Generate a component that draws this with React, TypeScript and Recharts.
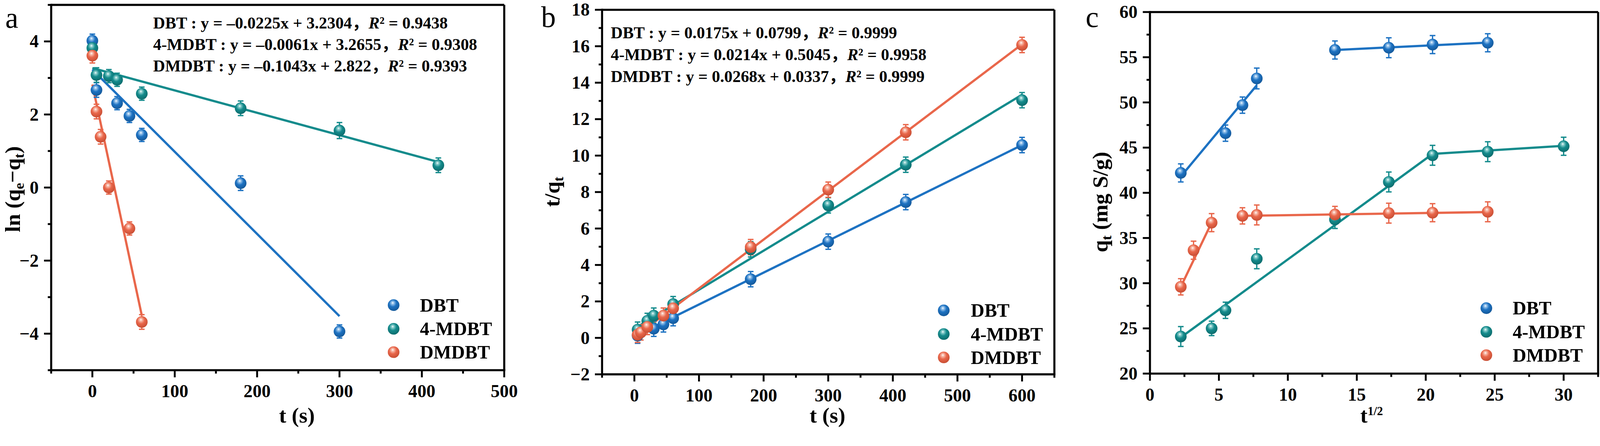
import React from "react";
import {
  ComposedChart,
  ErrorBar,
  Label,
  Legend,
  Line,
  ReferenceLine,
  Scatter,
  XAxis,
  YAxis,
} from "recharts";

const FONT = "'Liberation Serif', 'Times New Roman', Times, serif";
const INK = "#000";
const W = 4252;
const H = 1142;

const NAMES = ["DBT", "4-MDBT", "DMDBT"];
const COLORS = ["#1D72C2", "#148B8C", "#E9674B"];
const GRADS = ["sph-dbt", "sph-mdbt", "sph-dmdbt"];

// ---- a: ln(qe - qt) vs t
const A_DBT_T = [0, 5, 30, 45, 60, 180, 300];
const A_DBT_Y = [4.02, 2.67, 2.31, 1.96, 1.44, 0.12, -3.94];
const A_DBT_ERR = [0.18, 0.2, 0.18, 0.18, 0.18, 0.2, 0.18];
const A_MDBT_T = [0, 5, 20, 30, 60, 180, 300, 420];
const A_MDBT_Y = [3.82, 3.08, 3.05, 2.95, 2.57, 2.17, 1.56, 0.61];
const A_MDBT_ERR = [0.18, 0.2, 0.18, 0.18, 0.18, 0.2, 0.22, 0.2];
const A_DMDBT_T = [0, 5, 10, 20, 45, 60];
const A_DMDBT_Y = [3.61, 2.08, 1.39, 0.0, -1.12, -3.68];
const A_DMDBT_ERR = [0.2, 0.2, 0.2, 0.18, 0.18, 0.2];
const A_FIT_DBT = [[0, 3.23], [300, -3.52]];
const A_FIT_MDBT = [[0, 3.27], [420, 0.7]];
const A_FIT_DMDBT = [[0, 2.82], [60, -3.5]];
const A_X_MAJOR = [0, 100, 200, 300, 400, 500];
const A_X_MINOR = [-50, 50, 150, 250, 350, 450];
const A_Y_MAJOR = [-4, -2, 0, 2, 4];
const A_Y_MINOR = [-5, -3, -1, 1, 3, 5];
const A_EQ = ["y = –0.0225x + 3.2304", "y = –0.0061x + 3.2655", "y = –0.1043x + 2.822"];
const A_R2 = ["0.9438", "0.9308", "0.9393"];

// ---- b: t/qt vs t
const B_DBT_T = [5, 30, 45, 60, 180, 300, 420, 600];
const B_DBT_Y = [0.12, 0.5, 0.74, 1.08, 3.22, 5.28, 7.45, 10.58];
const B_MDBT_T = [5, 20, 30, 60, 180, 300, 420, 600];
const B_MDBT_Y = [0.45, 0.93, 1.22, 1.85, 4.86, 7.27, 9.5, 13.04];
const B_DMDBT_T = [5, 10, 20, 45, 60, 180, 300, 420, 600];
const B_DMDBT_Y = [0.17, 0.3, 0.6, 1.22, 1.62, 4.98, 8.13, 11.28, 16.07];
const B_ERR = 0.42;
const B_FIT_DBT = [[5, 0.17], [600, 10.58]];
const B_FIT_MDBT = [[5, 0.61], [600, 13.34]];
const B_FIT_DMDBT = [[5, 0.17], [600, 16.11]];
const B_X_MAJOR = [0, 100, 200, 300, 400, 500, 600];
const B_X_MINOR = [-50, 50, 150, 250, 350, 450, 550, 650];
const B_Y_MAJOR = [-2, 0, 2, 4, 6, 8, 10, 12, 14, 16, 18];
const B_Y_MINOR = [-1, 1, 3, 5, 7, 9, 11, 13, 15, 17];
const B_EQ = ["y = 0.0175x + 0.0799", "y = 0.0214x + 0.5045", "y = 0.0268x + 0.0337"];
const B_R2 = ["0.9999", "0.9958", "0.9999"];

// ---- c: qt vs t^1/2
const C_DBT_X = [2.236, 5.477, 6.708, 7.746, 13.416, 17.321, 20.494, 24.495];
const C_DBT_Y = [42.2, 46.6, 49.7, 52.65, 55.8, 56.05, 56.4, 56.6];
const C_DBT_ERR = [1.0, 0.9, 0.9, 1.15, 1.0, 1.1, 1.0, 1.0];
const C_MDBT_X = [2.236, 4.472, 5.477, 7.746, 13.416, 17.321, 20.494, 24.495, 30];
const C_MDBT_Y = [24.1, 25.0, 27.0, 32.7, 37.05, 41.2, 44.15, 44.55, 45.15];
const C_MDBT_ERR = [1.1, 0.8, 0.9, 1.1, 1.0, 1.1, 1.1, 1.1, 1.0];
const C_DMDBT_X = [2.236, 3.162, 4.472, 6.708, 7.746, 13.416, 17.321, 20.494, 24.495];
const C_DMDBT_Y = [29.6, 33.65, 36.7, 37.45, 37.55, 37.6, 37.75, 37.8, 37.9];
const C_DMDBT_ERR = [0.9, 1.0, 1.0, 0.9, 1.1, 0.9, 1.1, 1.0, 1.1];
const C_FIT_DBT_1 = [[2.236, 41.8], [7.746, 51.9]];
const C_FIT_DBT_2 = [[13.416, 55.8], [24.495, 56.62]];
const C_FIT_MDBT = [[2.236, 24.0], [20.494, 44.3], [30, 45.2]];
const C_FIT_DMDBT_1 = [[2.236, 29.6], [4.472, 36.7]];
const C_FIT_DMDBT_2 = [[6.708, 37.45], [24.495, 37.87]];
const C_X_MAJOR = [0, 5, 10, 15, 20, 25, 30];
const C_X_MINOR = [2.5, 7.5, 12.5, 17.5, 22.5, 27.5, 32.5];
const C_Y_MAJOR = [20, 25, 30, 35, 40, 45, 50, 55, 60];
const C_Y_MINOR = [22.5, 27.5, 32.5, 37.5, 42.5, 47.5, 52.5, 57.5];

type Pt = { x: number; y: number; err?: number };

const toPts = (xs: number[], ys: number[], errs: number[] | number): Pt[] =>
  xs.map((x, i) => ({ x, y: ys[i], err: Array.isArray(errs) ? errs[i] : errs }));
const toLine = (pairs: number[][]): Pt[] => pairs.map(([x, y]) => ({ x, y }));

const fmt = (v: number) => (v < 0 ? `\u2212${Math.abs(v)}` : `${v}`);

const makeXTick = (majors: number[]) => (props: any) => {
  const { x, y, payload } = props;
  const major = majors.includes(payload.value);
  return (
    <g>
      <line x1={x} x2={x} y1={y} y2={y + (major ? 19 : 9)} stroke={INK} strokeWidth={5} />
      {major && (
        <text x={x} y={y + 72} textAnchor="middle" fontFamily={FONT} fontWeight={700} fontSize={48} fill={INK}>
          {fmt(payload.value)}
        </text>
      )}
    </g>
  );
};

const makeYTick = (majors: number[]) => (props: any) => {
  const { x, y, payload } = props;
  const major = majors.includes(payload.value);
  return (
    <g>
      <line x1={x} x2={x - (major ? 19 : 9)} y1={y} y2={y} stroke={INK} strokeWidth={5} />
      {major && (
        <text x={x - 33} y={y + 16} textAnchor="end" fontFamily={FONT} fontWeight={700} fontSize={48} fill={INK}>
          {fmt(payload.value)}
        </text>
      )}
    </g>
  );
};

const sphere = (grad: string) => (props: any) => (
  <circle cx={props.cx} cy={props.cy} r={15.5} fill={`url(#${grad})`} />
);

function LegendBox({ gap }: { gap: number }) {
  return (
    <div style={{ fontFamily: FONT, fontWeight: 700, fontSize: 50, color: INK, width: "max-content" }}>
      {NAMES.map((name, i) => (
        <div key={name} style={{ display: "flex", alignItems: "center", height: 62.5, width: "max-content" }}>
          <svg width={32} height={32} style={{ display: "block" }}>
            <circle cx={16} cy={16} r={15.5} fill={`url(#${GRADS[i]})`} />
          </svg>
          <span style={{ marginLeft: gap, lineHeight: 1, whiteSpace: "nowrap" }}>{name}</span>
        </div>
      ))}
    </div>
  );
}

type PanelProps = {
  left: number;
  width: number;
  top: number;
  right: number;
  yAxisWidth: number;
  xAxisHeight: number;
  xDomain: [number, number];
  xMajor: number[];
  xMinor: number[];
  yDomain: [number, number];
  yMajor: number[];
  yMinor: number[];
  series: Pt[][];
  fits: { color: string; pts: Pt[] }[];
  legend: { left: number; top: number; gap: number };
  letter: { text: string; x: number; y: number };
  eq?: { x: number; ys: number[]; formulas: string[]; r2: string[] };
  xTitle: React.ReactNode;
  yTitle: React.ReactNode;
};

function Panel(p: PanelProps) {
  const xTicks = [...p.xMajor, ...p.xMinor].sort((a, b) => a - b);
  const yTicks = [...p.yMajor, ...p.yMinor].sort((a, b) => a - b);
  const axisLine = { stroke: INK, strokeWidth: 5.5, strokeLinecap: "square" as const };
  return (
    <div style={{ position: "absolute", left: p.left, top: 0, width: p.width, height: H }}>
      <ComposedChart width={p.width} height={H} margin={{ top: p.top, right: p.right, bottom: 0, left: 0 }}>
        <XAxis
          type="number"
          dataKey="x"
          domain={p.xDomain}
          allowDataOverflow
          ticks={xTicks}
          interval={0}
          tickSize={0}
          tickMargin={0}
          tickLine={false}
          axisLine={axisLine}
          tick={makeXTick(p.xMajor)}
          height={p.xAxisHeight}
          label={<Label content={() => <>{p.xTitle}</>} />}
        />
        <YAxis
          type="number"
          dataKey="y"
          domain={p.yDomain}
          allowDataOverflow
          ticks={yTicks}
          interval={0}
          tickSize={0}
          tickMargin={0}
          tickLine={false}
          axisLine={axisLine}
          tick={makeYTick(p.yMajor)}
          width={p.yAxisWidth}
          label={<Label content={() => <>{p.yTitle}</>} />}
        />
        <ReferenceLine y={p.yDomain[1]} stroke={INK} strokeWidth={5.5} ifOverflow="visible" />
        <ReferenceLine x={p.xDomain[1]} stroke={INK} strokeWidth={5.5} ifOverflow="visible" />
        {p.fits.map((f, i) => (
          <Line
            key={`fit-${i}`}
            data={f.pts}
            dataKey="y"
            stroke={f.color}
            strokeWidth={6}
            dot={false}
            activeDot={false}
            legendType="none"
            isAnimationActive={false}
          />
        ))}
        {p.series.map((pts, i) => (
          <Scatter
            key={NAMES[i]}
            name={NAMES[i]}
            data={pts}
            fill={COLORS[i]}
            shape={sphere(GRADS[i])}
            isAnimationActive={false}
          >
            <ErrorBar dataKey="err" direction="y" width={7.5} strokeWidth={3.5} stroke={COLORS[i]} />
          </Scatter>
        ))}
        <Legend
          layout="vertical"
          align="center"
          verticalAlign="middle"
          wrapperStyle={{ left: p.legend.left, top: p.legend.top, width: "auto", height: "auto" }}
          content={() => <LegendBox gap={p.legend.gap} />}
        />
      </ComposedChart>
      <svg
        width={p.width}
        height={H}
        style={{ position: "absolute", left: 0, top: 0, pointerEvents: "none" }}
      >
        <text x={p.letter.x} y={p.letter.y} fontFamily={FONT} fontSize={78} fill={INK}>
          {p.letter.text}
        </text>
        {p.eq &&
          p.eq.ys.map((y, i) => (
            <text key={i} x={p.eq!.x} y={y} fontFamily={FONT} fontWeight={700} fontSize={44} fill={INK}>
              {`${NAMES[i]} : ${p.eq!.formulas[i]}`}
              <tspan fontFamily="'Noto Sans CJK SC'">，</tspan>
              <tspan fontStyle="italic">R</tspan>
              {`² = ${p.eq!.r2[i]}`}
            </text>
          ))}
      </svg>
    </div>
  );
}

const titleProps = { fontFamily: FONT, fontWeight: 700, fontSize: 58, fill: INK };

function Gradients() {
  const stops = [
    ["#ffffff", "#9cc6ec", "#1D72C2", "#15599a"],
    ["#ffffff", "#8fd0cf", "#148B8C", "#0d6c6d"],
    ["#ffffff", "#f8c0b0", "#E9674B", "#c84e34"],
  ];
  return (
    <svg width={0} height={0} style={{ position: "absolute" }}>
      <defs>
        {GRADS.map((id, i) => (
          <radialGradient key={id} id={id} cx="0.44" cy="0.38" r="0.62" fx="0.42" fy="0.3">
            <stop offset="0" stopColor={stops[i][0]} />
            <stop offset="0.16" stopColor={stops[i][1]} />
            <stop offset="0.5" stopColor={stops[i][2]} />
            <stop offset="1" stopColor={stops[i][3]} />
          </radialGradient>
        ))}
      </defs>
    </svg>
  );
}

export default function App() {
  // shrink only if the viewport turns out narrower than the figure
  const [scale, setScale] = React.useState(1);
  React.useLayoutEffect(() => {
    const fit = () => setScale(Math.min(1, window.innerWidth / W));
    fit();
    window.addEventListener("resize", fit);
    return () => window.removeEventListener("resize", fit);
  }, []);

  return (
    <div
      style={{
        position: "absolute",
        left: 0,
        top: 0,
        width: W,
        height: H,
        background: "#fff",
        overflow: "hidden",
        transform: scale < 1 ? `scale(${scale})` : undefined,
        transformOrigin: "0 0",
      }}
    >
      <Gradients />
      <Panel
        left={0}
        width={1420}
        top={13}
        right={80}
        yAxisWidth={136}
        xAxisHeight={158}
        xDomain={[-50, 500]}
        xMajor={A_X_MAJOR}
        xMinor={A_X_MINOR}
        yDomain={[-5, 5]}
        yMajor={A_Y_MAJOR}
        yMinor={A_Y_MINOR}
        series={[
          toPts(A_DBT_T, A_DBT_Y, A_DBT_ERR),
          toPts(A_MDBT_T, A_MDBT_Y, A_MDBT_ERR),
          toPts(A_DMDBT_T, A_DMDBT_Y, A_DMDBT_ERR),
        ]}
        fits={[
          { color: COLORS[0], pts: toLine(A_FIT_DBT) },
          { color: COLORS[1], pts: toLine(A_FIT_MDBT) },
          { color: COLORS[2], pts: toLine(A_FIT_DMDBT) },
        ]}
        legend={{ left: 1030, top: 780, gap: 54 }}
        letter={{ text: "a", x: 14, y: 74 }}
        eq={{ x: 407, ys: [76, 133, 190], formulas: A_EQ, r2: A_R2 }}
        xTitle={
          <text x={789} y={1123} textAnchor="middle" {...titleProps}>
            t (s)
          </text>
        }
        yTitle={
          <text x={53} y={503} transform="rotate(-90 53 503)" textAnchor="middle" {...titleProps}>
            ln (q<tspan fontSize={38} dy={10}>e</tspan>
            <tspan dy={-10}>−q</tspan>
            <tspan fontSize={38} dy={10}>t</tspan>
            <tspan dy={-10}>)</tspan>
          </text>
        }
      />
      <Panel
        left={1420}
        width={1420}
        top={26}
        right={38}
        yAxisWidth={180}
        xAxisHeight={147}
        xDomain={[-50, 650]}
        xMajor={B_X_MAJOR}
        xMinor={B_X_MINOR}
        yDomain={[-2, 18]}
        yMajor={B_Y_MAJOR}
        yMinor={B_Y_MINOR}
        series={[
          toPts(B_DBT_T, B_DBT_Y, B_ERR),
          toPts(B_MDBT_T, B_MDBT_Y, B_ERR),
          toPts(B_DMDBT_T, B_DMDBT_Y, B_ERR),
        ]}
        fits={[
          { color: COLORS[0], pts: toLine(B_FIT_DBT) },
          { color: COLORS[1], pts: toLine(B_FIT_MDBT) },
          { color: COLORS[2], pts: toLine(B_FIT_DMDBT) },
        ]}
        legend={{ left: 1072, top: 794, gap: 56 }}
        letter={{ text: "b", x: 18, y: 72 }}
        eq={{ x: 203, ys: [102, 160, 218], formulas: B_EQ, r2: B_R2 }}
        xTitle={
          <text x={779} y={1123} textAnchor="middle" {...titleProps}>
            t (s)
          </text>
        }
        yTitle={
          <text x={67} y={510} transform="rotate(-90 67 510)" textAnchor="middle" {...titleProps}>
            t/q<tspan fontSize={38} dy={10}>t</tspan>
          </text>
        }
      />
      <Panel
        left={2840}
        width={1412}
        top={32}
        right={5}
        yAxisWidth={216}
        xAxisHeight={149}
        xDomain={[0, 32.5]}
        xMajor={C_X_MAJOR}
        xMinor={C_X_MINOR}
        yDomain={[20, 60]}
        yMajor={C_Y_MAJOR}
        yMinor={C_Y_MINOR}
        series={[
          toPts(C_DBT_X, C_DBT_Y, C_DBT_ERR),
          toPts(C_MDBT_X, C_MDBT_Y, C_MDBT_ERR),
          toPts(C_DMDBT_X, C_DMDBT_Y, C_DMDBT_ERR),
        ]}
        fits={[
          { color: COLORS[0], pts: toLine(C_FIT_DBT_1) },
          { color: COLORS[0], pts: toLine(C_FIT_DBT_2) },
          { color: COLORS[1], pts: toLine(C_FIT_MDBT) },
          { color: COLORS[2], pts: toLine(C_FIT_DMDBT_1) },
          { color: COLORS[2], pts: toLine(C_FIT_DMDBT_2) },
        ]}
        legend={{ left: 1094, top: 788, gap: 54 }}
        letter={{ text: "c", x: 45, y: 72 }}
        xTitle={
          <text x={775} y={1123} {...titleProps}>
            t<tspan fontSize={32} dy={-20}>1/2</tspan>
          </text>
        }
        yTitle={
          <text x={103} y={537} transform="rotate(-90 103 537)" textAnchor="middle" {...titleProps}>
            q<tspan fontSize={38} dy={10}>t</tspan>
            <tspan dy={-10}> (mg S/g)</tspan>
          </text>
        }
      />
    </div>
  );
}
